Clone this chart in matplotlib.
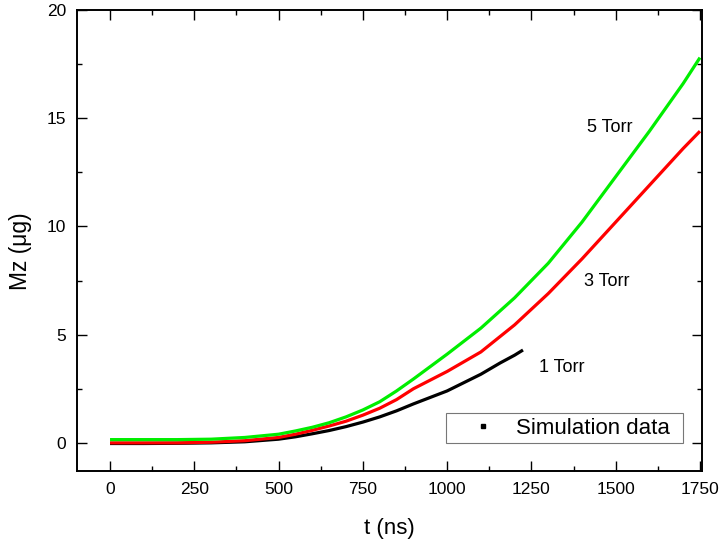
import matplotlib
matplotlib.use("Agg")
import matplotlib.pyplot as plt
from matplotlib.ticker import MultipleLocator

plt.rcParams['font.family'] = ['Liberation Sans', 'DejaVu Sans']

# time (ns) and mass (ug)
t_5 = [0, 100, 200, 300, 400, 500, 550, 600, 650, 700, 750, 800, 850, 900,
       1000, 1100, 1200, 1300, 1400, 1500, 1600, 1700, 1750]
mz_5 = [0.15, 0.15, 0.15, 0.17, 0.25, 0.40, 0.55, 0.72, 0.93, 1.2, 1.52,
        1.9, 2.4, 2.95, 4.1, 5.3, 6.7, 8.3, 10.2, 12.3, 14.4, 16.6, 17.8]

t_3 = [0, 100, 200, 300, 400, 500, 550, 600, 650, 700, 750, 800, 850, 900,
       1000, 1100, 1200, 1300, 1400, 1500, 1600, 1700, 1750]
mz_3 = [0.0, 0.0, 0.0, 0.03, 0.1, 0.25, 0.4, 0.58, 0.78, 1.0, 1.28, 1.6,
        2.0, 2.5, 3.3, 4.2, 5.45, 6.9, 8.5, 10.2, 11.9, 13.6, 14.4]

t_1 = [0, 100, 200, 300, 400, 500, 550, 600, 650, 700, 750, 800, 850, 900,
       1000, 1100, 1157, 1200, 1225]
mz_1 = [-0.03, -0.03, -0.02, 0.0, 0.05, 0.17, 0.28, 0.42, 0.57, 0.75, 0.96,
        1.2, 1.48, 1.8, 2.4, 3.17, 3.69, 4.05, 4.29]

labels = ['1 Torr', '3 Torr', '5 Torr']
label_t = [1341, 1474, 1483]
label_mz = [3.46, 7.44, 14.57]

fig = plt.figure(figsize=(7.23, 5.43), dpi=100)
ax = fig.add_axes([77 / 723, 72 / 543, 625 / 723, 461 / 543])

ax.plot(t_1, mz_1, color='black', lw=2.3, solid_capstyle='butt')
ax.plot(t_3, mz_3, color='#ff0000', lw=2.3, solid_capstyle='butt')
ax.plot(t_5, mz_5, color='#00ee00', lw=2.3, solid_capstyle='butt')

for lab, x, y in zip(labels, label_t, label_mz):
    ax.text(x, y, lab, fontsize=13, ha='center', va='center')

# legend handle only (no visible data)
ax.plot([], [], 's', color='black', markersize=2.5, label='Simulation data')
leg = ax.legend(loc='lower left', bbox_to_anchor=(0.590, 0.0607, 0.380, 0.065),
                mode='expand', borderaxespad=0, fontsize=16, frameon=True,
                fancybox=False, handlelength=2.95, handletextpad=0.0,
                borderpad=0.2)
leg.get_frame().set_edgecolor('#555555')
leg.get_frame().set_linewidth(0.8)

ax.set_xlim(-98, 1756)
ax.set_ylim(-1.3, 20)
ax.xaxis.set_major_locator(MultipleLocator(250))
ax.xaxis.set_minor_locator(MultipleLocator(125))
ax.yaxis.set_major_locator(MultipleLocator(5))
ax.yaxis.set_minor_locator(MultipleLocator(2.5))
ax.tick_params(which='both', direction='in', top=True, right=True,
               labelsize=12.5, width=1.0)
ax.tick_params(which='major', length=7, pad=8)
ax.tick_params(which='minor', length=3.5)
for s in ax.spines.values():
    s.set_linewidth(1.4)

ax.set_xlabel('t (ns)', fontsize=16)
ax.set_ylabel('Mz (\u03bcg)', fontsize=16.5)
ax.xaxis.set_label_coords(0.5, -0.102)
ax.yaxis.set_label_coords(-0.072, 0.477)

fig.savefig('out.png', dpi=100)
